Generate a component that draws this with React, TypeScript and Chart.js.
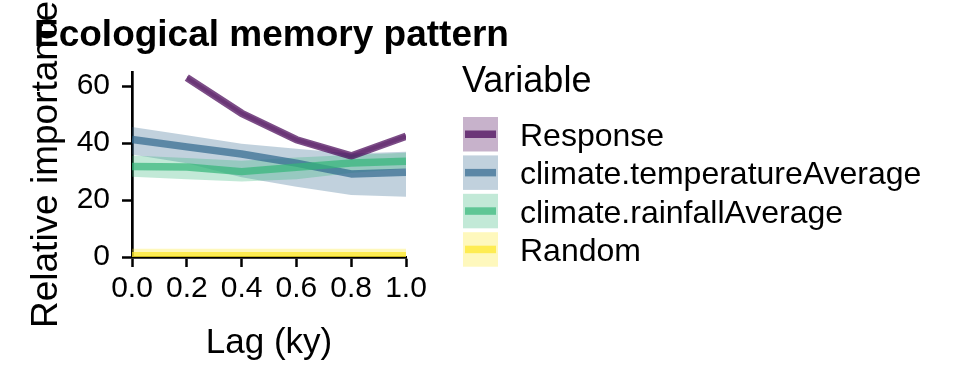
import { useEffect, useRef } from 'react';
import { Chart, registerables } from 'chart.js';

Chart.register(...registerables);

// ---------- data ----------
const lags = [0, 0.2, 0.4, 0.6, 0.8, 1.0];
const yTickValues = [0, 20, 40, 60];
const variables = ['Response', 'climate.temperatureAverage', 'climate.rainfallAverage', 'Random'];

const responseMedian = [null, 63.0, 50.5, 41.2, 35.5, 42.4];
const responseLower = [null, 62.2, 49.7, 40.4, 34.7, 41.6];
const responseUpper = [null, 63.8, 51.3, 42.0, 36.3, 43.2];

const temperatureMedian = [41.3, 38.7, 36.2, 33.0, 29.2, 29.8];
const temperatureLower = [36.0, 32.9, 28.0, 24.7, 21.8, 21.2];
const temperatureUpper = [45.7, 42.8, 39.8, 38.0, 36.4, 37.0];

const rainfallMedian = [31.8, 31.6, 30.0, 31.5, 33.0, 33.6];
const rainfallLower = [28.2, 27.3, 26.5, 27.3, 29.5, 31.0];
const rainfallUpper = [35.7, 34.8, 33.8, 35.0, 35.8, 36.6];

const randomMedian = [0.4, 0.4, 0.4, 0.4, 0.4, 0.4];
const randomLower = [0, 0, 0, 0, 0, 0];
const randomUpper = [2.9, 2.9, 2.9, 2.9, 2.9, 2.9];

const titleText = 'Ecological memory pattern';
const xTitle = 'Lag (ky)';
const yTitle = 'Relative importance';
const legendTitle = 'Variable';

// ---------- styles ----------
const lineColors = [
  'rgba(68,1,84,0.7)',
  'rgba(49,104,142,0.7)',
  'rgba(53,183,121,0.7)',
  'rgba(253,231,37,0.7)',
];
const bandColors = [
  'rgba(68,1,84,0.3)',
  'rgba(49,104,142,0.3)',
  'rgba(53,183,121,0.3)',
  'rgba(253,231,37,0.3)',
];
const FONT = '"Liberation Sans", Arial, sans-serif';
const LINE_W = 7.5;

const series = [
  { median: responseMedian, lower: responseLower, upper: responseUpper },
  { median: temperatureMedian, lower: temperatureLower, upper: temperatureUpper },
  { median: rainfallMedian, lower: rainfallLower, upper: rainfallUpper },
  { median: randomMedian, lower: randomLower, upper: randomUpper },
];

const pts = (arr: (number | null)[]) => lags.map((x, i) => ({ x, y: arr[i] }));

const textPlugin = {
  id: 'textPlugin',
  afterDraw(chart: any) {
    const ctx = chart.ctx as CanvasRenderingContext2D;
    const area = chart.chartArea;
    ctx.save();
    ctx.fillStyle = '#000';
    // plot title
    ctx.font = `bold 37px ${FONT}`;
    ctx.textAlign = 'left';
    ctx.textBaseline = 'alphabetic';
    ctx.fillText(titleText, 34, 46);
    // x title
    ctx.font = `35px ${FONT}`;
    ctx.textAlign = 'center';
    ctx.fillText(xTitle, (area.left + area.right) / 2, 353);
    // y title
    ctx.save();
    ctx.translate(57, (area.top + area.bottom) / 2);
    ctx.rotate(-Math.PI / 2);
    ctx.font = `37px ${FONT}`;
    ctx.textAlign = 'center';
    ctx.fillText(yTitle, 0, 0);
    ctx.restore();
    // legend
    ctx.font = `36px ${FONT}`;
    ctx.textAlign = 'left';
    ctx.fillText(legendTitle, 462, 92);
    const bx = 463, bw = 35, bh = 34.5, top0 = 117, step = 38.4;
    variables.forEach((name, k) => {
      const y = top0 + k * step;
      ctx.fillStyle = '#fff';
      ctx.fillRect(bx, y, bw, bh);
      ctx.fillStyle = bandColors[k];
      ctx.fillRect(bx, y, bw, bh);
      ctx.strokeStyle = lineColors[k];
      ctx.lineWidth = LINE_W;
      ctx.beginPath();
      ctx.moveTo(bx + 2, y + bh / 2);
      ctx.lineTo(bx + bw - 2, y + bh / 2);
      ctx.stroke();
      ctx.fillStyle = '#000';
      ctx.font = `32px ${FONT}`;
      ctx.fillText(name, 520, y + bh / 2 + 11.5);
    });
    ctx.restore();
  },
};

export default function App() {
  const ref = useRef<HTMLCanvasElement | null>(null);
  useEffect(() => {
    if (!ref.current) return;
    const datasets: any[] = [];
    series.forEach((s, k) => {
      const order = 10 - k;
      datasets.push({
        label: variables[k] + ' upper',
        data: pts(s.upper),
        borderWidth: 0,
        borderColor: 'transparent',
        pointRadius: 0,
        fill: false,
        order,
      });
      datasets.push({
        label: variables[k] + ' lower',
        data: pts(s.lower),
        borderWidth: 0,
        borderColor: 'transparent',
        backgroundColor: bandColors[k],
        pointRadius: 0,
        fill: '-1',
        order,
      });
      datasets.push({
        label: variables[k],
        data: pts(s.median),
        borderColor: lineColors[k],
        borderWidth: LINE_W,
        borderJoinStyle: 'round',
        borderCapStyle: 'butt',
        pointRadius: 0,
        fill: false,
        order,
        clip: 0,
      });
    });

    const chart = new Chart(ref.current, {
      type: 'line',
      data: { datasets },
      plugins: [textPlugin],
      options: {
        animation: false,
        responsive: false,
        devicePixelRatio: 1,
        layout: { padding: { left: 0, top: 72, right: 554, bottom: 0 } },
        plugins: {
          legend: { display: false },
          tooltip: { enabled: false },
          title: { display: false },
          filler: { drawTime: 'beforeDatasetsDraw', propagate: false },
        },
        scales: {
          x: {
            type: 'linear',
            position: 'bottom',
            min: 0,
            max: 1,
            z: 1,
            afterFit: (s: any) => { s.height = 127; },
            afterBuildTicks: (s: any) => { s.ticks = lags.map((v) => ({ value: v })); },
            ticks: {
              color: '#000',
              font: { family: FONT, size: 30 },
              padding: 4,
              maxRotation: 0,
              autoSkip: false,
              callback: (v: any) => Number(v).toFixed(1),
            },
            grid: { display: true, drawOnChartArea: false, drawTicks: true, tickLength: 10, tickWidth: 2.5, tickColor: '#000' },
            border: { display: true, color: '#000', width: 2.7 },
          },
          y: {
            type: 'linear',
            min: 0,
            max: 65,
            z: 1,
            afterFit: (s: any) => { s.width = 132; },
            afterBuildTicks: (s: any) => { s.ticks = yTickValues.map((v) => ({ value: v })); },
            ticks: {
              color: '#000',
              font: { family: FONT, size: 30 },
              padding: 12,
            },
            grid: { display: true, drawOnChartArea: false, drawTicks: true, tickLength: 10, tickWidth: 2.5, tickColor: '#000' },
            border: { display: true, color: '#000', width: 2.7 },
          },
        },
      } as any,
    });
    return () => chart.destroy();
  }, []);

  return (
    <div style={{ position: 'absolute', left: 0, top: 0, width: 960, height: 384, background: '#fff' }}>
      <canvas ref={ref} width={960} height={384} style={{ width: 960, height: 384, display: 'block' }} />
    </div>
  );
}
